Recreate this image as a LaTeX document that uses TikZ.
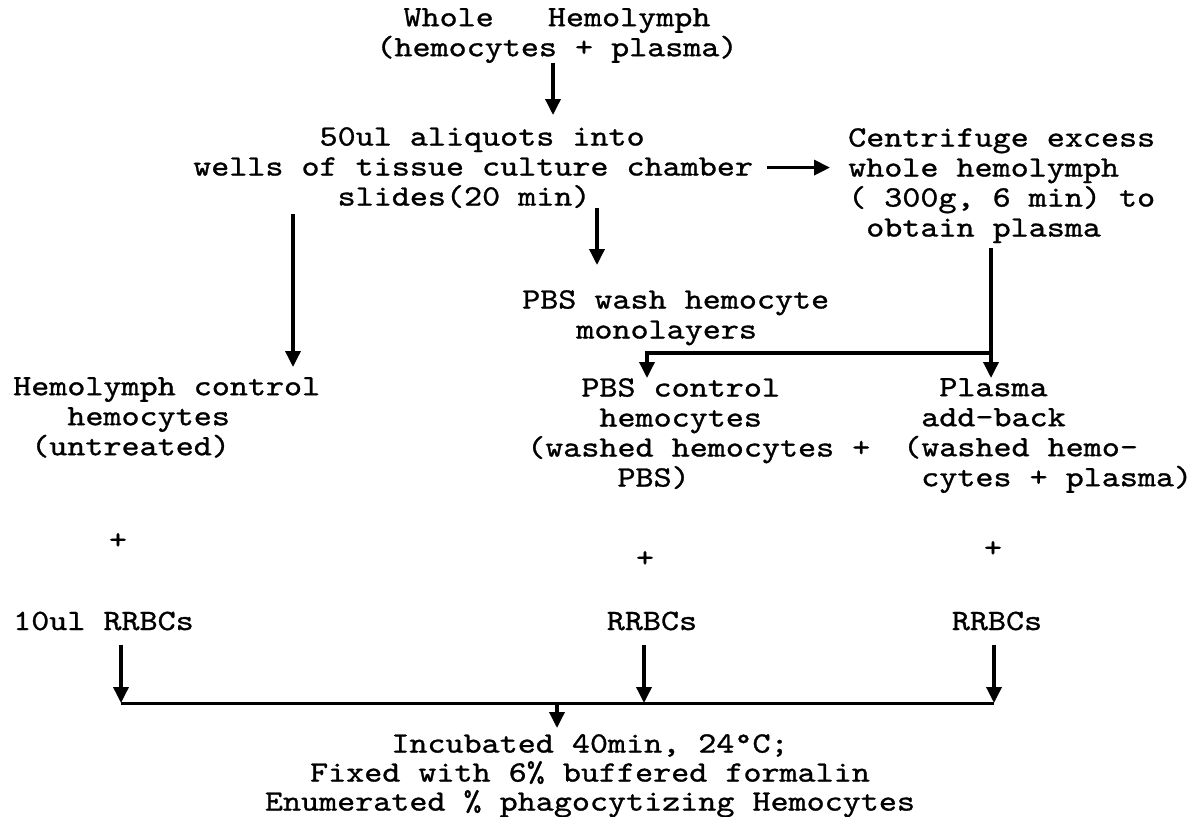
\documentclass[tikz,border=0pt]{standalone}
\usepackage{fontspec}
\newfontfamily\typewr{lmmono10-regular.otf}[FakeStretch=1.166, FakeBold=1]
\usepackage{tikz}
\usetikzlibrary{arrows.meta, calc}

\begin{document}
\begin{tikzpicture}[x=1pt, y=-1pt,
  txt/.style={font=\typewr\fontsize{29.5}{30}\selectfont, inner sep=0pt, align=left},
  arr/.style={line width=3.5pt, -{Triangle[length=16pt, width=15pt]}},
  wire/.style={line width=3pt}]
  \useasboundingbox (0,0) rectangle (1193,816);

  \node[txt, align=center, anchor=north] (whole) at (557,8) {Whole~~~Hemolymph\\(hemocytes + plasma)};
  \node[txt, anchor=north west] (aliquot) at (193,127) {~~~~~~~50ul aliquots into\\wells of tissue culture chamber\\~~~~~~~~slides(20 min)};
  \node[txt, anchor=north west] (centrifuge) at (848,128) {Centrifuge excess\\whole hemolymph\\( 300g, 6 min) to\\~obtain plasma};
  \node[txt, anchor=north west] (hemctl) at (13,377) {Hemolymph control\\~~~hemocytes\\~(untreated)};
  \node[txt, anchor=north west] (pbswash) at (522,290) {PBS wash hemocyte\\~~~monolayers};
  \node[txt, anchor=north west] (pbsctl) at (527,378) {~~~PBS control\\~~~~hemocytes\\(washed hemocytes +\\~~~~~PBS)};
  \node[txt, anchor=north west] (plasma) at (903,378) {~~Plasma\\~add-back\\(washed hemo-\\~cytes + plasma)};

  \node[txt] (plusL) at (118,541) {+};
  \node[txt] (plusM) at (645,559) {+};
  \node[txt] (plusR) at (993,549) {+};

  \node[txt, anchor=west] (rbcL) at (13,621) {10ul RRBCs};
  \node[txt] (rbcM) at (652,621) {RRBCs};
  \node[txt] (rbcR) at (997,621) {RRBCs};

  \node[txt, align=center, anchor=north, font=\typewr\fontsize{29.5}{29}\selectfont] (incub) at (590,734)
    {Incubated 40min, 24°C;\\Fixed with 6\% buffered formalin\\Enumerated \% phagocytizing Hemocytes};

  % upper half
  \draw[arr, shorten >=12pt] ([xshift=-4pt]whole.south) -- ([xshift=-4pt]whole.south |- aliquot.north);
  \draw[arr, shorten <=14pt, shorten >=18pt] (aliquot.east) -- (aliquot.east -| centrifuge.west);
  \draw[arr, shorten <=6pt, shorten >=10pt] ([xshift=100pt]aliquot.south west) -- ([xshift=100pt]aliquot.south west |- hemctl.north);
  \draw[arr, shorten >=25pt] ([xshift=404pt]aliquot.south west) -- ([xshift=404pt]aliquot.south west |- pbswash.north);
  \draw[arr, shorten <=5pt] ([xshift=143pt]centrifuge.south west) -- ([xshift=143pt]centrifuge.south west |- plasma.north);
  \coordinate (jR) at (991,353);
  \draw[arr] (jR) -| ([xshift=120pt]pbsctl.north west);

  % lower half
  \coordinate (bus) at (557,703);
  \draw[arr, shorten <=14pt] ([xshift=108pt]rbcL.south west) -- ([xshift=108pt]rbcL.south west |- bus);
  \draw[arr, shorten <=14pt] ([xshift=-8pt]rbcM.south) -- ([xshift=-8pt]rbcM.south |- bus);
  \draw[arr, shorten <=14pt] ([xshift=-3pt]rbcR.south) -- ([xshift=-3pt]rbcR.south |- bus);
  \draw[wire] ([xshift=108pt]rbcL.south west |- bus) -- ([xshift=-3pt]rbcR.south |- bus);
  \draw[arr, shorten >=6pt] (bus) -- (bus |- incub.north);
\end{tikzpicture}
\end{document}
